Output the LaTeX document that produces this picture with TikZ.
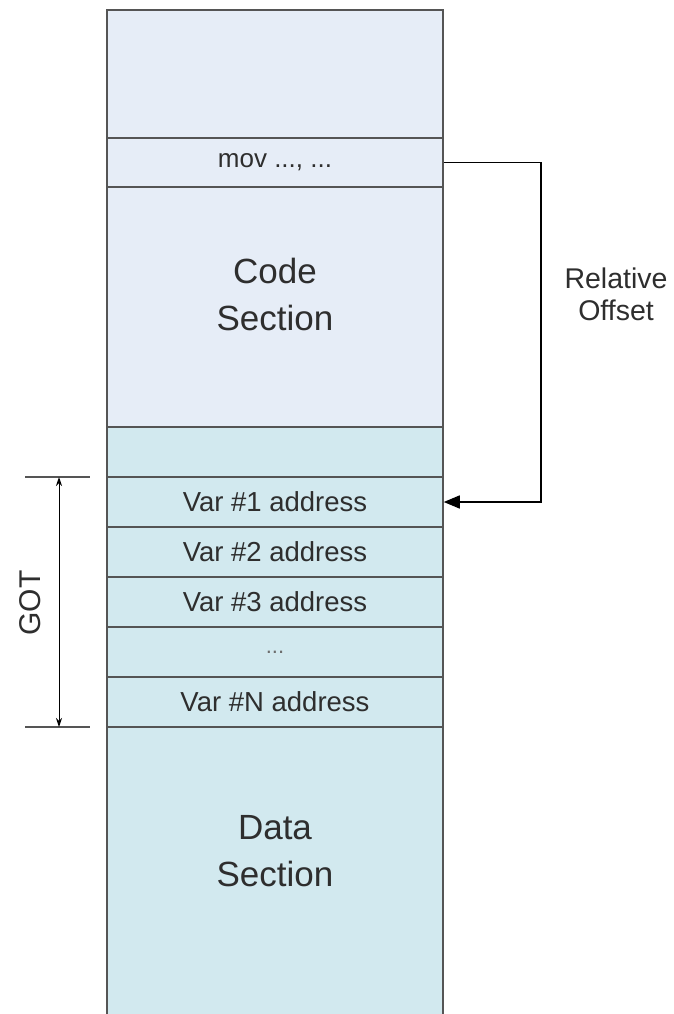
\documentclass[tikz,border=0pt]{standalone}
\usepackage{fontspec}
\setmainfont{Liberation Sans}
\usetikzlibrary{arrows.meta}
\definecolor{codefill}{HTML}{E6EDF7}
\definecolor{datafill}{HTML}{D2E9EF}
\definecolor{edge}{HTML}{555555}
\definecolor{txt}{HTML}{2E2E2E}
\begin{document}
\begin{tikzpicture}[x=1pt,y=-1pt,
  cell/.style={draw=edge, line width=1.5pt, rectangle, minimum width=336pt, inner sep=0pt, text=txt},
  codecell/.style={cell, fill=codefill},
  datacell/.style={cell, fill=datafill},
  varfont/.style={font=\fontsize{27.5}{30}\selectfont},
  bigfont/.style={font=\fontsize{35}{47}\selectfont, align=center, text=txt},
  conn/.style={line width=1.5pt, black},
  dim/.style={line width=1pt, black}
]
\useasboundingbox (0,0) rectangle (674,1014);
% data section (bottom border outside the page)
\node[datacell, minimum height=303pt] (data) at (275,878.5) {};
\node[bigfont] (datalabel) at (275,851) {Data\\Section};
\node[codecell, minimum height=128pt] (top) at (275,74) {};
\node[codecell, minimum height=49pt, font=\fontsize{26}{28}\selectfont] (mov) at (275,162.5) {mov ..., ...};
\node[codecell, minimum height=240pt] (code) at (275,307) {};
\node[bigfont] (codelabel) at (275,294) {Code\\Section};
\node[datacell, minimum height=50pt] (pad) at (275,452) {};
\node[datacell, minimum height=50pt, varfont] (v1) at (275,502) {Var \#1 address};
\node[datacell, minimum height=50pt, varfont] (v2) at (275,552) {Var \#2 address};
\node[datacell, minimum height=50pt, varfont] (v3) at (275,602) {Var \#3 address};
\node[datacell, minimum height=50pt, font=\fontsize{22}{24}\selectfont, text=txt!70] (dots) at (275,652) {...};
\node[datacell, minimum height=50pt, varfont] (vN) at (275,702) {Var \#N address};
% relative offset arrow
\draw[conn, -{Triangle[length=16pt,width=13pt]}] (mov.east) -- ++(97,0) |- (v1.east);
\node[text=txt, align=center, font=\fontsize{28.5}{32}\selectfont] (rel) at (616,294) {Relative\\Offset};
% GOT dimension
\coordinate (g1a) at (25,477);
\coordinate (g1b) at (90,477);
\coordinate (g2a) at (25,727);
\coordinate (g2b) at (90,727);
\coordinate (ga) at (59,477);
\coordinate (gb) at (59,727);
\draw[edge, line width=1.5pt] (g1a) -- (g1b);
\draw[edge, line width=1.5pt] (g2a) -- (g2b);
\draw[dim, {Stealth[length=9pt,width=6pt]}-{Stealth[length=9pt,width=6pt]}] (ga) -- (gb);
\node[text=txt, rotate=90, font=\fontsize{30}{32}\selectfont] (got) at (30,603) {GOT};
\end{tikzpicture}
\end{document}
